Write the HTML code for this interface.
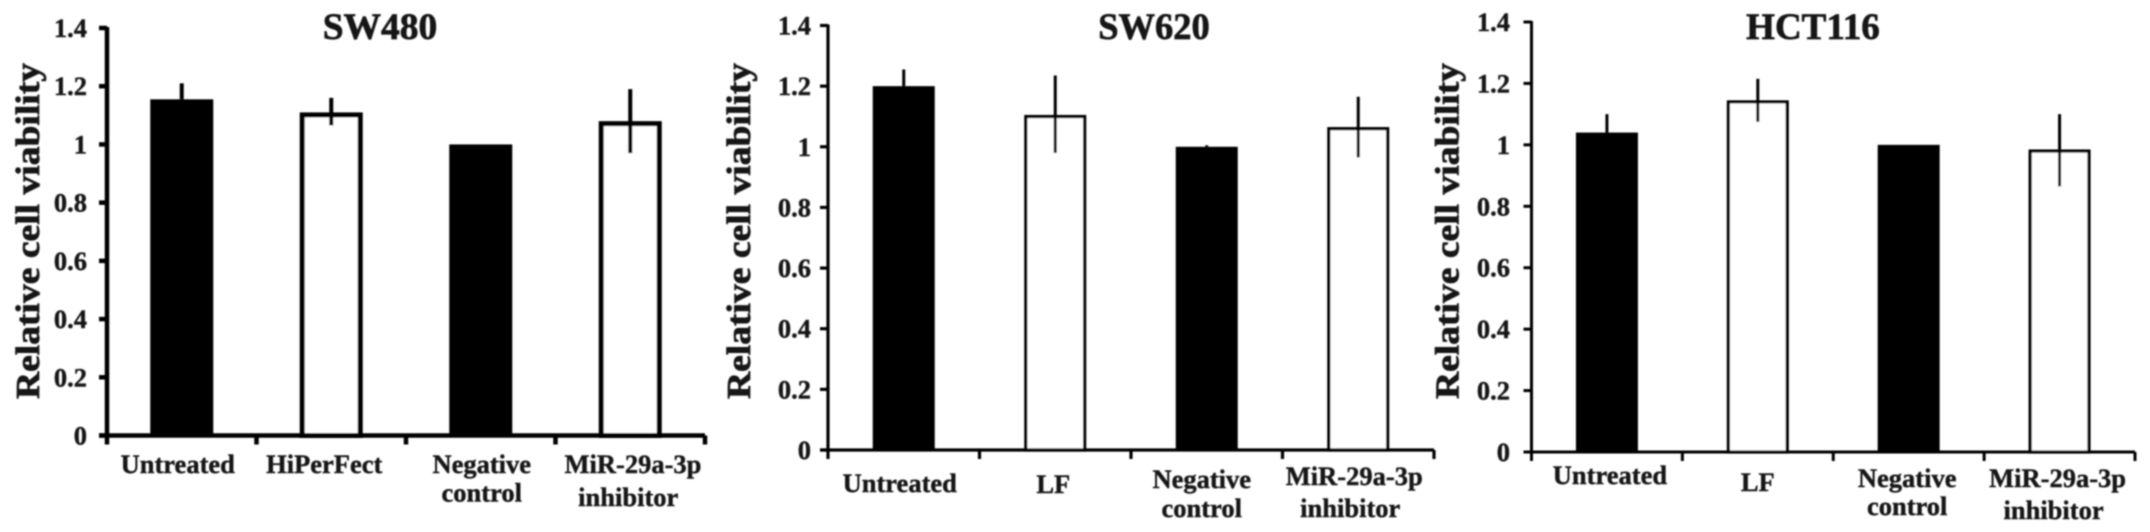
<!DOCTYPE html>
<html lang="en">
<head>
<meta charset="utf-8">
<title>Relative cell viability in SW480, SW620 and HCT116</title>
<style>
html,body{margin:0;padding:0;background:#fff;width:2150px;height:532px;overflow:hidden}
svg{display:block}
text{font-family:"Liberation Serif",serif;font-weight:bold;fill:#141414;stroke:#141414;stroke-width:.4}
.big{stroke-width:.7}
</style>
</head>
<body>
<svg id="figure" xmlns="http://www.w3.org/2000/svg" width="2150" height="532" viewBox="0 0 2150 532">
<defs><filter id="soft" x="-2%" y="-2%" width="104%" height="104%"><feGaussianBlur stdDeviation="0.85"/></filter></defs>
<g id="root" filter="url(#soft)"></g>
</svg>
<script>
// ---- Data ----
const yTicks = [0, 0.2, 0.4, 0.6, 0.8, 1, 1.2, 1.4];
const yMax = 1.4;
const yAxisTitle = "Relative cell viability";

const sw480Title = "SW480";
const sw480Categories = [["Untreated"], ["HiPerFect"], ["Negative", "control"], ["MiR-29a-3p", "inhibitor"]];
const sw480Values = [1.155, 1.11, 1.0, 1.08];
const sw480ErrHigh = [1.21, 1.16, 1.0, 1.19];
const sw480ErrLow = [1.155, 1.065, 1.0, 0.97];

const sw620Title = "SW620";
const sw620Categories = [["Untreated"], ["LF"], ["Negative", "control"], ["MiR-29a-3p", "inhibitor"]];
const sw620Values = [1.2, 1.105, 1.0, 1.065];
const sw620ErrHigh = [1.255, 1.235, 1.005, 1.165];
const sw620ErrLow = [1.2, 0.98, 1.0, 0.965];

const hct116Title = "HCT116";
const hct116Categories = [["Untreated"], ["LF"], ["Negative", "control"], ["MiR-29a-3p", "inhibitor"]];
const hct116Values = [1.04, 1.145, 1.0, 0.985];
const hct116ErrHigh = [1.1, 1.215, 1.0, 1.1];
const hct116ErrLow = [1.04, 1.075, 1.0, 0.865];

// ---- Layout (separate from data) ----
const panels = [
  { key: "sw480", title: sw480Title, cats: sw480Categories, vals: sw480Values, hi: sw480ErrHigh, lo: sw480ErrLow,
    axisX: 107, axisEnd: 705, top: 28, base: 435.5, axisW: 4.5, barStroke: 5, barW: 63, whisker: 4,
    tickRight: 87, titleX: 380, titleY: 39, titleSize: 37.5, yTitleX: 39, yTitleY: 231,
    labelDx: [-4, -7, 1, 2.7], labelY: [473, 473, 473, 473], label2Y: [0, 0, 501.5, 506], label2Dx: [0, 0, 1, -2] },
  { key: "sw620", title: sw620Title, cats: sw620Categories, vals: sw620Values, hi: sw620ErrHigh, lo: sw620ErrLow,
    axisX: 828, axisEnd: 1434, top: 25.5, base: 450, axisW: 3.2, barStroke: 3.2, barW: 62, whisker: 3,
    tickRight: 811, titleX: 1154, titleY: 39, titleSize: 36.5, yTitleX: 750, yTitleY: 231,
    labelDx: [-4, -2, -5, -4], labelY: [492, 493, 488, 485], label2Y: [0, 0, 517, 517], label2Dx: [0, 0, -5, -8] },
  { key: "hct116", title: hct116Title, cats: hct116Categories, vals: hct116Values, hi: hct116ErrHigh, lo: hct116ErrLow,
    axisX: 1531.5, axisEnd: 2135, top: 22, base: 452, axisW: 3, barStroke: 3.2, barW: 62, whisker: 3,
    tickRight: 1510, titleX: 1813, titleY: 39, titleSize: 37, yTitleX: 1458.5, yTitleY: 231,
    labelDx: [3, 0, -1.5, -2], labelY: [484, 491, 487, 487], label2Y: [0, 0, 515, 519], label2Dx: [0, 0, -1.5, -6] }
];

const NS = "http://www.w3.org/2000/svg";
const root = document.getElementById("root");

function make(parent, tag) {
  const el = document.createElementNS(NS, tag);
  parent.appendChild(el);
  return el;
}
function setAll(el, props) {
  for (const k in props) el.setAttribute(k, props[k]);
  return el;
}
function strokeLine(parent, x1, y1, x2, y2, w) {
  const el = make(parent, "line");
  return setAll(el, { x1, y1, x2, y2, stroke: "#000", "stroke-width": w });
}

panels.forEach(function (p) {
  const yScale = function (v) { return p.base - (v / yMax) * (p.base - p.top); };
  const step = (p.axisEnd - p.axisX) / p.cats.length;
  const xScale = function (i) { return p.axisX + (i + 0.5) * step; };

  const g = make(root, "g");
  
  

  const title = make(g, "text");
  
  
  setAll(title, { x: p.titleX, y: p.titleY, "text-anchor": "middle", "font-size": p.titleSize, class: "big" });
  title.textContent = p.title;

  const yTitle = make(g, "text");
  
  
  setAll(yTitle, {
    x: 0, y: 0, "text-anchor": "middle", "font-size": 34, class: "big",
    textLength: 336, lengthAdjust: "spacingAndGlyphs",
    transform: "translate(" + p.yTitleX + "," + p.yTitleY + ") rotate(-90)"
  });
  yTitle.textContent = yAxisTitle;

  // bars
  p.vals.forEach(function (v, i) {
    const cx = xScale(i);
    const filled = i % 2 === 0;
    const bar = make(g, "rect");
    
    
    const inset = filled ? 0 : p.barStroke / 2;
    setAll(bar, {
      x: cx - p.barW / 2 + inset,
      y: yScale(v) + inset,
      width: p.barW - 2 * inset,
      height: yScale(0) - yScale(v) - inset,
      fill: filled ? "#000" : "#fff",
      stroke: filled ? "none" : "#000",
      "stroke-width": filled ? 0 : p.barStroke
    });

    const err = strokeLine(g, cx, yScale(p.hi[i]), cx, yScale(p.lo[i]), p.whisker);
    
    
  });

  // axes
  const yAxis = strokeLine(g, p.axisX, p.top - 1, p.axisX, p.base + 9, p.axisW);
  
  
  const xAxis = strokeLine(g, p.axisX - 8, p.base, p.axisEnd, p.base, p.axisW);
  
  

  yTicks.forEach(function (t) {
    const y = yScale(t);
    const mark = strokeLine(g, p.axisX - 8, y, p.axisX, y, p.axisW);
    
    
    const label = make(g, "text");
    
    
    setAll(label, { x: p.tickRight, y: y + 9, "text-anchor": "end", "font-size": 26.5 });
    label.textContent = String(t);
  });

  p.cats.forEach(function (lines, i) {
    const tx = p.axisX + (i + 1) * step;
    const mark = strokeLine(g, tx, p.base, tx, p.base + 9, p.axisW);
    
    

    const first = make(g, "text");
    
    
    setAll(first, { x: xScale(i) + p.labelDx[i], y: p.labelY[i], "text-anchor": "middle", "font-size": 26.5 });
    first.textContent = lines[0];

    if (lines[1]) {
      const second = make(g, "text");
      
      
      setAll(second, { x: xScale(i) + p.label2Dx[i], y: p.label2Y[i], "text-anchor": "middle", "font-size": 26.5 });
      second.textContent = lines[1];
    }
  });
});
</script>
</body>
</html>
